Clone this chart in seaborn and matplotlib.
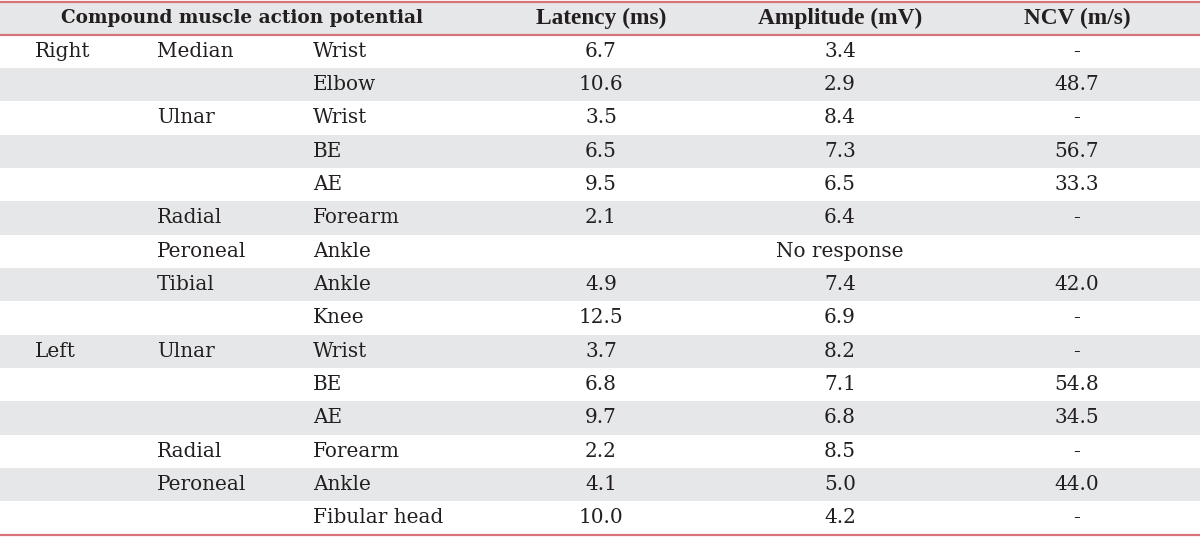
import matplotlib
matplotlib.use("Agg")
import matplotlib.pyplot as plt
import seaborn as sns

side = ["Right", "", "", "", "", "", "", "", "", "Left", "", "", "", "", ""]
nerve = ["Median", "", "Ulnar", "", "", "Radial", "Peroneal", "Tibial", "",
         "Ulnar", "", "", "Radial", "Peroneal", ""]
site = ["Wrist", "Elbow", "Wrist", "BE", "AE", "Forearm", "Ankle", "Ankle", "Knee",
        "Wrist", "BE", "AE", "Forearm", "Ankle", "Fibular head"]
latency = ["6.7", "10.6", "3.5", "6.5", "9.5", "2.1", "", "4.9", "12.5",
           "3.7", "6.8", "9.7", "2.2", "4.1", "10.0"]
amplitude = ["3.4", "2.9", "8.4", "7.3", "6.5", "6.4", "No response", "7.4", "6.9",
             "8.2", "7.1", "6.8", "8.5", "5.0", "4.2"]
ncv = ["-", "48.7", "-", "56.7", "33.3", "-", "", "42.0", "-",
       "-", "54.8", "34.5", "-", "44.0", "-"]
headers = ["Compound muscle action potential", "Latency (ms)", "Amplitude (mV)", "NCV (m/s)"]

sns.set_theme(style="white")
plt.rcParams["font.family"] = ["DejaVu Serif"]

W, H = 1200, 537
fig = plt.figure(figsize=(W / 100, H / 100), dpi=100)
ax = fig.add_axes([0, 0, 1, 1])
ax.set_xlim(0, W)
ax.set_ylim(H, 0)
ax.axis("off")

grey = "#e6e7e8"
red = "#d9737a"
txt = "#231f20"

top, head_bot, bottom = 2.0, 34.5, 534.5
n = len(site)
rh = (bottom - head_bot) / n

ax.axhspan(top, head_bot, color=grey, lw=0, zorder=0)
for i in range(n):
    if i % 2 == 1:
        ax.axhspan(head_bot + i * rh, head_bot + (i + 1) * rh, color=grey, lw=0, zorder=0)
for y in (top, head_bot, bottom):
    ax.axhline(y, color=red, lw=1.6, zorder=2)

fs = 14.4
hy = (top + head_bot) / 2
ax.text(242, hy, headers[0], ha="center", va="center", fontsize=13.3, fontweight="bold", color=txt)
for x, h in zip([601, 840, 1077], headers[1:]):
    ax.text(x, hy + 0.5, h, ha="center", va="center", fontsize=16.8, fontweight="bold",
            color=txt, family="Liberation Serif")

for i in range(n):
    y = head_bot + (i + 0.5) * rh
    ax.text(35, y, side[i], ha="left", va="center", fontsize=fs, color=txt)
    ax.text(157, y, nerve[i], ha="left", va="center", fontsize=fs, color=txt)
    ax.text(313, y, site[i], ha="left", va="center", fontsize=fs, color=txt)
    if amplitude[i] == "No response":
        ax.text(840, y, amplitude[i], ha="center", va="center", fontsize=fs, color=txt)
        continue
    ax.text(601, y, latency[i], ha="center", va="center", fontsize=fs, color=txt)
    ax.text(840, y, amplitude[i], ha="center", va="center", fontsize=fs, color=txt)
    ax.text(1077, y, ncv[i], ha="center", va="center", fontsize=fs, color=txt)

fig.savefig("out.png", dpi=100)
